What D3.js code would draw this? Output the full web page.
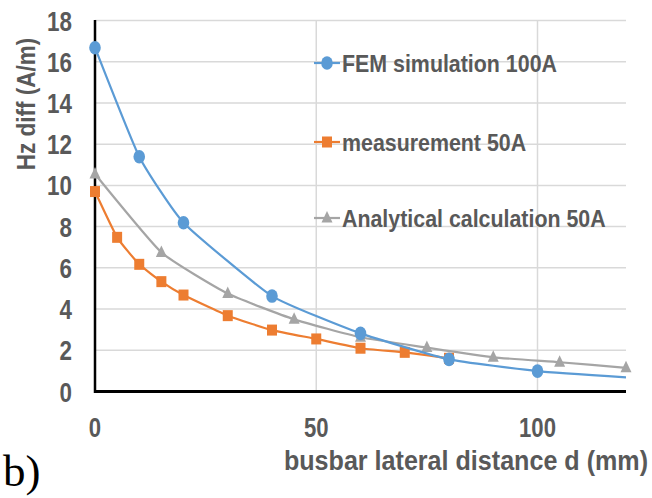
<!DOCTYPE html>
<html>
<head>
<meta charset="utf-8">
<script src="https://cdn.jsdelivr.net/npm/d3@7"></script>
<style>
  body { margin: 0; background: #fff; }
  text { font-family: "Liberation Sans", Arial, sans-serif; font-weight: bold; fill: #595959; }
</style>
</head>
<body>
<svg id="chart" width="652" height="498"></svg>
<script>
// valores
var femD = [0, 10, 20, 40, 60, 80, 100, 120];
var femHz = [16.68, 11.39, 8.19, 4.63, 2.82, 1.56, 0.99, 0.69];

var measD = [0, 5, 10, 15, 20, 30, 40, 50, 60, 70, 80];
var measHz = [9.7, 7.48, 6.17, 5.33, 4.68, 3.68, 2.98, 2.55, 2.1, 1.9, 1.61];

var anaD = [0, 15, 30, 45, 60, 75, 90, 105, 120];
var anaHz = [10.55, 6.75, 4.75, 3.5, 2.63, 2.13, 1.66, 1.42, 1.15];

var yTicks = [0, 2, 4, 6, 8, 10, 12, 14, 16, 18];
var xTicks = [0, 50, 100];

var seriesNames = ["FEM simulation 100A", "measurement 50A", "Analytical calculation 50A"];

(function(d3){

    var svg = d3.select("#chart");
    var left = 95, right = 626, top = 20.5, bottom = 391.5;

    var x = d3.scaleLinear().domain([0, 120]).range([left, right]);
    var y = d3.scaleLinear().domain([0, 18]).range([bottom, top]);

    //texto estreito (fonte condensada simulada)
    function addText(parent, tx, ty, txt, size, anchor, sx, rot){
        var g = parent.append("g")
            .attr("transform", "translate(" + tx + "," + ty + ")" + (rot ? " rotate(" + rot + ")" : "") + " scale(" + sx + ",1)");
        return g.append("text")
            .attr("text-anchor", anchor)
            .style("font-size", size + "px")
            .text(txt);
    }

    //grades
    svg.append("g").selectAll("line")
        .data(yTicks.filter(function(t){ return t > 0; }))
        .enter().append("line")
        .attr("x1", left).attr("x2", right)
        .attr("y1", function(d){ return y(d); })
        .attr("y2", function(d){ return y(d); })
        .style("stroke", "#d9d9d9").style("stroke-width", 1.5);

    svg.append("g").selectAll("line")
        .data(xTicks.filter(function(t){ return t > 0; }))
        .enter().append("line")
        .attr("x1", function(d){ return x(d); })
        .attr("x2", function(d){ return x(d); })
        .attr("y1", top).attr("y2", bottom)
        .style("stroke", "#d9d9d9").style("stroke-width", 1.5);

    //rotulos dos eixos
    var gy = svg.append("g");
    yTicks.forEach(function(t){
        addText(gy, 72, y(t) + 10, t, 28, "end", 0.8);
    });
    var gx = svg.append("g");
    xTicks.forEach(function(t){
        addText(gx, x(t), 437, t, 27, "middle", 0.82);
    });

    //eixos
    svg.append("line")
        .attr("x1", left).attr("x2", left).attr("y1", top - 0.5).attr("y2", bottom + 1.5)
        .style("stroke", "#000").style("stroke-width", 2.5);
    svg.append("line")
        .attr("x1", left - 1).attr("x2", right).attr("y1", bottom).attr("y2", bottom)
        .style("stroke", "#000").style("stroke-width", 3);

    //titulos
    addText(svg, 35, 104, "Hz diff (A/m)", 25, "middle", 0.9, -90);
    addText(svg, 648, 470, "busbar lateral distance d (mm)", 27, "end", 0.93);

    svg.append("text")
        .attr("x", 3).attr("y", 486)
        .style("font-family", "'Liberation Serif', 'Times New Roman', serif")
        .style("font-weight", "normal")
        .style("fill", "#000")
        .style("font-size", "45px")
        .text("b)");

    var line = d3.line()
        .x(function(d){ return x(d[0]); })
        .y(function(d){ return y(d[1]); })
        .curve(d3.curveCardinal.tension(0.55));

    var series = [
        {name: seriesNames[0], color: "#5b9bd5", shape: "circle", pts: d3.zip(femD, femHz), markMax: 100},
        {name: seriesNames[1], color: "#ed7d31", shape: "square", pts: d3.zip(measD, measHz), markMax: 120},
        {name: seriesNames[2], color: "#a5a5a5", shape: "triangle", pts: d3.zip(anaD, anaHz), markMax: 120}
    ];

    function drawMarker(g, shape, color, cx, cy){
        if(shape == "circle"){
            g.append("ellipse").attr("cx", cx).attr("cy", cy).attr("rx", 5.8).attr("ry", 6.8).style("fill", color);
        } else if(shape == "square"){
            g.append("rect").attr("x", cx - 5).attr("y", cy - 5.5).attr("width", 10).attr("height", 11).style("fill", color);
        } else {
            g.append("path")
                .attr("d", "M" + cx + "," + (cy - 7) + "L" + (cx + 5.5) + "," + (cy + 4.5) + "L" + (cx - 5.5) + "," + (cy + 4.5) + "Z")
                .style("fill", color);
        }
    }

    //ordem de desenho: cinza, laranja, azul por cima
    [2, 1, 0].forEach(function(i){
        var s = series[i];
        svg.append("path").datum(s.pts)
            .attr("d", line)
            .style("fill", "none")
            .style("stroke", s.color)
            .style("stroke-width", 2.2);
        var g = svg.append("g");
        s.pts.forEach(function(p){
            if(p[0] <= s.markMax) drawMarker(g, s.shape, s.color, x(p[0]), y(p[1]));
        });
    });

    //legenda
    var legY = [63, 142, 218];
    series.forEach(function(s, i){
        var g = svg.append("g");
        g.append("line").attr("x1", 314).attr("x2", 340).attr("y1", legY[i]).attr("y2", legY[i])
            .style("stroke", s.color).style("stroke-width", 2.2);
        drawMarker(g, s.shape, s.color, 327, legY[i]);
        addText(g, 342, legY[i] + 8.5, s.name, 23.5, "start", 0.91);
    });

})(d3);
</script>
</body>
</html>
